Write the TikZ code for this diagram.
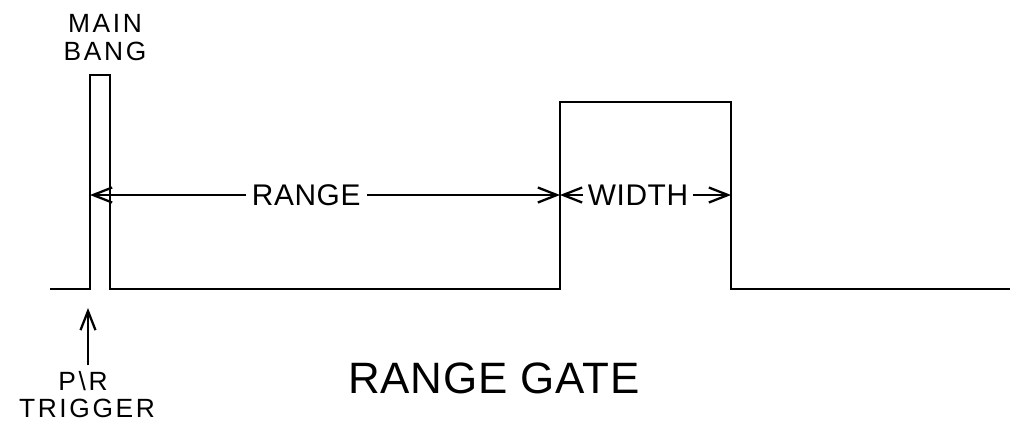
\documentclass[tikz,border=0pt]{standalone}
\usepackage{fontspec}
\setmainfont{Liberation Sans}
\usetikzlibrary{arrows.meta}

\begin{document}
\begin{tikzpicture}[x=0.2mm,y=-0.2mm,line width=1.3pt,
 dim/.style={{Straight Barb[length=3.8mm,width=3mm]}-{Straight Barb[length=3.8mm,width=3mm]}},
 tip/.style={-{Straight Barb[length=3.8mm,width=3mm]}},
 small/.style={font=\fontsize{15}{16}\selectfont\addfontfeatures{LetterSpace=10},inner sep=0pt},
 mid/.style={font=\fontsize{17}{18}\selectfont\addfontfeatures{LetterSpace=2},inner sep=2pt}]
\useasboundingbox (0,0) rectangle (1021,430);
% waveform corners
\coordinate (b0) at (50,289);
\coordinate (mb1) at (90,289); \coordinate (mb2) at (90,75);
\coordinate (mb3) at (110,75); \coordinate (mb4) at (110,289);
\coordinate (g1) at (560,289); \coordinate (g2) at (560,102);
\coordinate (g3) at (731,102); \coordinate (g4) at (731,289);
\coordinate (b1) at (1010,289);
\draw (b0)--(mb1)--(mb2)--(mb3)--(mb4)--(g1)--(g2)--(g3)--(g4)--(b1);
% labels
\node[small] (main) at (105,23) {MAIN};
\node[small] (bang) at (105,51) {BANG};
\node[small] (pr) at (83,381) {P\textbackslash R};
\node[small] (trig) at (87,408) {TRIGGER};
\node[font=\fontsize{25}{27}\selectfont\addfontfeatures{LetterSpace=2}] (title) at (494,378) {RANGE GATE};
% range and width
\coordinate (rl) at (90,195); \coordinate (rr) at (560,195);
\coordinate (wr) at (731,195);
\draw[dim] (rl)--(rr) node[mid,pos=.46,fill=white,inner xsep=3.5pt] (range) {RANGE};
\node[mid] (width) at (638,195) {WIDTH};
\draw[tip] (width.west)--(rr);
\draw[tip] (width.east)--(wr);
% trigger arrow
\coordinate (t0) at (88,365); \coordinate (t1) at (88,308);
\draw[tip] (t0)--(t1);
\end{tikzpicture}
\end{document}
